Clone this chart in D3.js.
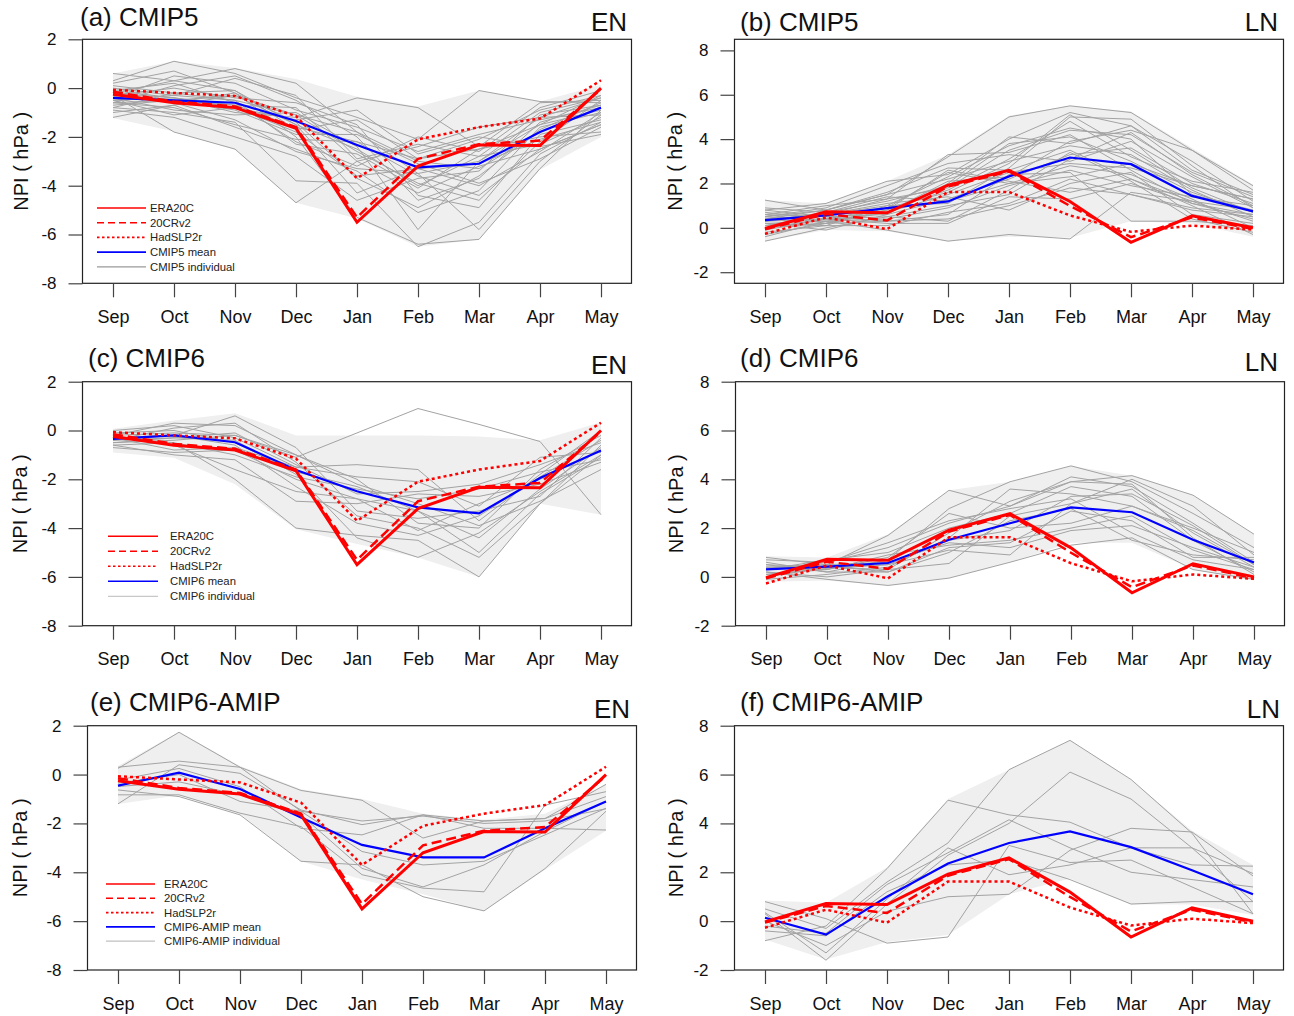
<!DOCTYPE html>
<html>
<head>
<meta charset="utf-8">
<script src="https://cdn.jsdelivr.net/npm/d3@7"></script>
<style>
  body { margin: 0; background: #fff; }
  svg { font-family: "Liberation Sans", Arial, Helvetica, sans-serif; }
</style>
</head>
<body>
<div id="chart"></div>
<script>
const months = ["Sep", "Oct", "Nov", "Dec", "Jan", "Feb", "Mar", "Apr", "May"];

// observations (same in every EN / LN panel)
const era20cEN = [-0.25, -0.6, -0.8, -1.65, -5.5, -3.2, -2.33, -2.35, 0.0];
const cr20EN   = [-0.15, -0.55, -0.75, -1.6, -5.3, -2.9, -2.3, -2.15, -0.05];
const hadEN    = [-0.07, -0.2, -0.32, -1.15, -3.7, -2.1, -1.6, -1.25, 0.32];
const era20cLN = [-0.03, 0.72, 0.68, 1.92, 2.59, 1.19, -0.65, 0.54, 0.0];
const cr20LN   = [-0.06, 0.62, 0.33, 1.86, 2.54, 0.99, -0.42, 0.47, -0.05];
const hadLN    = [-0.27, 0.47, -0.06, 1.62, 1.62, 0.56, -0.18, 0.1, -0.08];

// multi-model means
const cmip5MeanEN = [-0.4, -0.5, -0.6, -1.35, -2.33, -3.25, -3.1, -1.8, -0.8];
const cmip5MeanLN = [0.35, 0.56, 0.89, 1.19, 2.32, 3.17, 2.87, 1.44, 0.74];
const cmip6MeanEN = [-0.34, -0.2, -0.48, -1.62, -2.49, -3.15, -3.4, -1.95, -0.82];
const cmip6MeanLN = [0.31, 0.42, 0.57, 1.52, 2.2, 2.85, 2.65, 1.52, 0.59];
const amipMeanEN  = [-0.45, 0.08, -0.59, -1.76, -2.88, -3.39, -3.39, -2.2, -1.1];
const amipMeanLN  = [0.14, -0.55, 1.0, 2.36, 3.2, 3.67, 3.03, 2.08, 1.1];

// spread band (upper / lower)
const cmip5UpperEN = [0.6, 1.1, 0.82, 0.37, -0.35, -0.75, -0.1, -0.55, 0.14];
const cmip5LowerEN = [-1.23, -1.78, -2.53, -4.7, -5.34, -6.5, -6.2, -3.35, -2.0];
const cmip5UpperLN = [1.26, 1.1, 2.1, 3.3, 5.05, 5.5, 5.25, 3.6, 1.95];
const cmip5LowerLN = [-0.6, -0.1, -0.15, -0.6, -0.4, -0.45, 0.3, 0.2, -0.4];
const cmip6UpperEN = [0.07, 0.41, 0.71, -0.2, -0.2, -0.2, -0.25, -0.4, 0.34];
const cmip6LowerEN = [-0.9, -1.12, -2.2, -4.05, -4.65, -5.2, -6.0, -3.0, -3.45];
const cmip6UpperLN = [0.85, 0.8, 1.75, 3.55, 3.9, 4.55, 4.15, 3.35, 1.75];
const cmip6LowerLN = [-0.2, -0.15, -0.35, -0.05, 0.6, 1.4, 1.4, 0.3, -0.15];
const amipUpperEN  = [0.35, 1.75, 0.35, -0.6, -1.0, -1.6, -1.85, -1.6, -0.4];
const amipLowerEN  = [-1.2, -0.85, -1.6, -3.55, -4.3, -4.9, -5.6, -3.9, -2.3];
const amipUpperLN  = [0.85, 0.75, 2.2, 5.0, 6.2, 7.4, 5.8, 3.7, 2.3];
const amipLowerLN  = [-0.75, -1.57, -0.85, -0.57, 1.1, 1.75, 0.68, 0.68, 0.25];

// individual models
const cmip5IndivEN = [
  [0.3, 1.1, 0.6, -0.4, -1.2, -2.1, -0.1, -0.55, -0.6],
  [0.6, 0.3, 0.8, 0.2, -1.8, -3.5, -3.0, -1.5, -0.3],
  [-0.3, -1.8, -2.5, -4.7, -3.0, -4.3, -3.2, -2.5, -1.5],
  [-0.5, -0.4, -1.0, -1.2, -0.4, -0.8, -2.4, -0.6, -0.5],
  [-0.2, -0.6, -0.2, -2.0, -5.3, -6.4, -6.2, -3.3, -0.9],
  [-0.8, -1.0, -1.4, -3.8, -3.9, -6.5, -5.5, -2.7, -1.4],
  [-1.2, -0.7, -1.6, -2.5, -3.4, -5.1, -4.2, -1.6, -1.0],
  [-0.4, 0.5, 0.2, -0.9, -1.6, -2.6, -1.9, -1.3, -0.8],
  [0.1, -0.2, -0.5, -1.1, -2.6, -3.9, -4.6, -2.2, -0.5],
  [-0.6, -0.5, -0.7, -1.6, -2.2, -2.9, -2.5, -2.0, -1.8],
  [-0.3, 0.0, -0.4, -0.6, -1.5, -4.4, -4.9, -1.9, -1.3],
  [-0.9, -1.2, -2.0, -2.8, -4.6, -3.7, -3.4, -1.1, -0.7],
  [-0.5, -0.3, 0.4, -0.3, -2.9, -2.3, -2.8, -2.3, -1.2],
  [0.2, 0.7, -0.2, -1.4, -3.7, -4.9, -3.6, -1.7, -0.6],
  [-0.7, -0.5, -0.9, -1.9, -1.9, -3.1, -3.9, -2.9, -1.6],
  [-0.4, -0.9, -1.1, -1.0, -2.4, -5.8, -3.0, -1.2, -0.4],
  [-0.1, 0.2, -0.6, -2.2, -3.2, -2.0, -2.6, -0.8, -0.1],
  [-1.0, -0.7, -0.3, -1.5, -4.3, -3.3, -4.0, -2.6, -1.0],
  [-0.2, -0.4, -0.8, -1.3, -0.9, -2.7, -2.0, -2.4, -1.9],
  [-0.6, 0.1, 0.5, -0.5, -2.0, -4.6, -3.7, -1.4, -0.7],
  [-0.3, -0.6, -1.3, -2.6, -3.3, -3.5, -5.8, -3.0, -1.1],
  [-0.8, -0.2, -0.1, -1.7, -1.3, -2.9, -2.1, -0.9, -0.3],
  [0.0, -0.3, -0.5, -2.3, -2.7, -4.1, -2.5, -1.5, -0.9],
  [-0.5, -1.1, -0.8, -1.8, -3.6, -3.3, -3.1, -2.1, -1.4],
  [-0.4, -0.5, -0.3, -1.1, -1.8, -3.0, -3.3, -1.8, -0.8],
  [-0.2, 0.3, -0.1, -1.5, -2.5, -4.0, -2.8, -1.0, -0.4],
  [-0.6, -0.8, -1.5, -2.1, -2.2, -3.6, -4.4, -2.5, -1.5],
  [-0.1, -0.4, -0.7, -0.8, -3.0, -2.4, -1.6, -1.2, -1.1]
];
const cmip5IndivLN = [
  [1.25, 0.8, 1.5, 3.2, 5.0, 5.5, 5.2, 3.5, 1.9],
  [0.8, 1.1, 2.1, 2.4, 4.0, 5.2, 4.6, 2.6, 1.5],
  [-0.6, 0.0, 0.5, 1.0, 1.5, 3.1, 4.3, 2.4, 1.0],
  [0.5, 0.3, -0.1, -0.6, -0.3, -0.5, 1.6, 1.2, 0.3],
  [0.3, 0.6, 1.3, 3.3, 3.4, 4.2, 2.6, 1.1, 0.6],
  [0.0, 0.4, 0.9, 1.6, 2.9, 5.1, 3.5, 1.8, 0.7],
  [0.6, 0.5, 0.3, 0.6, 2.4, 2.5, 0.3, 0.3, 0.1],
  [-0.2, 0.1, 1.0, 2.3, 3.7, 4.5, 4.0, 1.5, 0.8],
  [0.9, 0.7, 1.4, 1.2, 2.0, 2.3, 2.9, 1.9, 1.3],
  [0.2, -0.1, 0.6, 2.0, 4.1, 3.8, 4.6, 3.0, 1.2],
  [0.4, 0.8, 1.6, 2.7, 2.6, 3.5, 2.2, 1.0, -0.3],
  [-0.3, 0.2, 0.3, 0.4, 1.0, 1.8, 1.5, 0.8, 0.5],
  [0.7, 0.4, 0.8, 1.7, 3.1, 4.8, 3.2, 2.1, 1.6],
  [0.1, 0.6, 1.1, 1.4, 0.8, 2.0, 2.5, 0.6, 0.2],
  [0.5, 0.9, 1.9, 2.9, 3.3, 3.0, 3.9, 2.3, 0.9],
  [0.2, 0.3, 0.4, 0.9, 1.9, 2.6, 1.9, 1.4, 1.0],
  [0.6, 0.2, 0.7, 2.1, 2.3, 3.9, 4.4, 3.5, 1.7],
  [-0.1, 0.4, 0.2, 0.2, 1.4, 1.3, 2.0, 1.1, 0.4],
  [0.3, 0.7, 1.2, 1.9, 3.8, 4.1, 3.0, 1.6, 0.7],
  [0.8, 0.5, 0.6, 1.3, 2.2, 3.3, 3.6, 2.0, 1.1],
  [0.0, 0.2, 0.9, 2.5, 2.0, 2.8, 2.4, 1.3, 0.0],
  [0.4, 0.6, 1.0, 1.1, 2.7, 5.0, 4.9, 2.8, 0.9],
  [0.2, 0.1, 0.1, 0.7, 1.1, 2.2, 1.5, 0.9, 0.6],
  [0.5, 0.8, 1.5, 2.2, 3.0, 3.7, 3.3, 1.7, 0.5],
  [-0.4, 0.3, 0.7, 1.5, 2.5, 2.9, 2.7, 1.9, 1.3],
  [0.3, 0.4, 0.5, 0.3, 1.7, 3.4, 2.1, 0.4, -0.2],
  [0.6, 1.0, 1.3, 1.8, 3.5, 4.4, 4.2, 2.5, 1.4],
  [0.1, 0.2, 0.8, 2.6, 2.1, 1.6, 2.2, 1.2, 0.8]
];
const cmip6IndivEN = [
  [-0.3, -0.5, -2.0, -4.0, -4.3, -4.5, -6.0, -3.0, -1.0],
  [-0.2, -0.1, -0.2, -1.1, -0.1, 0.9, 0.25, -0.45, -3.45],
  [-0.2, 0.3, 0.2, -1.0, -2.0, -3.8, -4.0, -1.6, -0.2],
  [-0.5, -0.3, -0.4, -1.8, -4.4, -5.2, -4.2, -2.5, -1.0],
  [-0.4, 0.1, 0.3, -1.3, -3.5, -4.0, -5.2, -3.0, -0.6],
  [-0.3, -0.8, -0.7, -1.5, -1.4, -1.6, -3.7, -1.8, 0.0],
  [-0.1, 0.0, -0.5, -1.7, -2.3, -3.3, -4.4, -2.4, -0.7],
  [-0.6, -1.0, -1.2, -2.9, -3.0, -2.6, -2.7, -2.2, -1.3],
  [-0.4, -0.3, -0.1, -1.4, -2.6, -2.5, -2.2, -1.4, -0.5],
  [-0.2, -0.6, -1.6, -2.5, -2.8, -4.1, -3.0, -2.0, -0.8],
  [-0.5, -0.4, -0.2, -1.0, -2.2, -3.0, -3.9, -2.9, -1.6],
  [-0.3, -0.2, 0.6, -0.7, -3.3, -3.6, -3.3, -2.7, -0.3],
  [-0.7, -0.9, -0.8, -2.0, -2.8, -3.3, -5.0, -2.6, -1.1],
  [0.0, 0.2, -0.3, -1.5, -1.9, -2.1, -3.1, -1.1, -0.9],
  [-0.4, -0.2, -0.6, -2.3, -3.8, -4.3, -3.5, -1.9, -0.4],
  [-0.6, -0.5, -1.0, -1.9, -2.4, -2.8, -2.4, -1.7, -1.2]
];
const cmip6IndivLN = [
  [0.8, 0.5, 1.7, 3.55, 2.9, 3.9, 4.15, 3.35, 1.75],
  [0.5, 0.2, 0.7, 2.8, 3.9, 4.55, 3.9, 2.6, 1.2],
  [0.2, -0.1, -0.35, -0.05, 0.6, 1.3, 1.6, 0.3, -0.1],
  [0.3, 0.6, 1.2, 2.2, 2.9, 4.1, 3.7, 2.2, 0.6],
  [0.0, 0.4, 0.3, 0.55, 2.5, 3.0, 3.6, 1.8, 0.4],
  [0.4, 0.3, 0.9, 1.3, 1.5, 2.0, 2.5, 1.1, 0.3],
  [-0.1, 0.1, 0.4, 1.6, 3.6, 3.4, 2.9, 1.9, 0.5],
  [0.5, 0.4, 0.5, 1.1, 0.9, 3.0, 4.0, 2.9, 0.9],
  [0.3, 0.7, 1.0, 2.0, 2.6, 3.7, 3.3, 1.5, 0.2],
  [0.6, 0.2, 0.2, 1.0, 2.3, 2.8, 1.5, 0.9, 0.7],
  [0.1, 0.3, 0.8, 2.6, 2.0, 2.2, 2.9, 2.0, 1.0],
  [0.4, 0.5, 0.6, 1.4, 1.2, 1.9, 2.1, 1.2, 0.4],
  [0.2, 0.0, 0.3, 1.8, 3.1, 3.9, 3.8, 1.6, 0.1],
  [0.35, 0.45, 0.2, 1.2, 1.4, 2.7, 2.3, 0.8, 0.8],
  [0.7, 0.6, 1.4, 2.3, 2.8, 3.2, 1.8, 0.7, 0.3],
  [0.1, 0.35, 0.5, 1.5, 1.9, 3.3, 3.4, 2.1, 0.5]
];
const amipIndivEN = [
  [0.25, 1.73, 0.3, -1.5, -1.9, -1.7, -2.0, -1.9, -1.4],
  [0.3, 0.55, 0.3, -0.65, -1.05, -2.6, -1.9, -1.8, -0.4],
  [-1.2, 0.4, 0.05, -1.45, -2.05, -1.65, -2.2, -2.2, -2.27],
  [-0.83, -0.83, -1.58, -2.13, -4.1, -4.65, -4.8, -1.25, -0.7],
  [-0.63, -0.9, -1.65, -3.55, -3.7, -5.0, -5.58, -3.85, -1.5],
  [-0.35, 0.0, -1.1, -1.5, -3.15, -3.7, -3.55, -2.47, -1.38],
  [-0.22, 0.25, -0.5, -2.2, -2.47, -1.65, -1.9, -1.8, -0.9],
  [-0.49, -0.3, -0.83, -1.65, -3.84, -4.6, -3.7, -2.33, -1.1]
];
const amipIndivLN = [
  [0.5, -0.3, 1.6, 3.2, 6.2, 7.4, 5.8, 3.6, 0.3],
  [0.3, -1.6, 0.7, 2.7, 4.0, 6.1, 5.0, 3.0, 0.8],
  [-0.8, -0.2, 2.15, 4.95, 4.35, 4.05, 3.0, 2.3, 2.25],
  [0.8, 0.1, -0.9, -0.65, 3.1, 2.4, 2.5, 1.4, 0.3],
  [0.0, -1.0, 0.4, 1.0, 1.1, 2.9, 3.8, 3.65, 1.85],
  [-0.2, -0.5, 1.5, 2.8, 4.15, 3.0, 2.0, 1.7, 1.4],
  [0.35, -1.3, 0.9, 3.0, 1.9, 2.3, 3.0, 3.0, 1.95],
  [-0.4, -0.6, 1.2, 2.3, 2.5, 1.7, 0.7, 0.8, 0.8]
];

const W = 1294, H = 1016;
const svg = d3.select("#chart").append("svg")
  .attr("width", W).attr("height", H);

const enTicks = [-8, -6, -4, -2, 0, 2];
const lnTicks = [-2, 0, 2, 4, 6, 8];

const panels = [
  { title: "(a) CMIP5", phase: "EN", model: "CMIP5", obs: [era20cEN, cr20EN, hadEN], mean: cmip5MeanEN,
    indiv: cmip5IndivEN, upper: cmip5UpperEN, lower: cmip5LowerEN, domain: [-8, 2], ticks: enTicks,
    left: 82.5, right: 631.5, top: 39.3, bottom: 283.3, titleX: 80, titleY: 26, phaseX: 627, phaseY: 31,
    ylabX: 21, legend: { x: 97, y: 208, len: 49, tx: 150, dy: 14.7, gray: "#9a9a9a" } },
  { title: "(b) CMIP5", phase: "LN", model: "CMIP5", obs: [era20cLN, cr20LN, hadLN], mean: cmip5MeanLN,
    indiv: cmip5IndivLN, upper: cmip5UpperLN, lower: cmip5LowerLN, domain: [-2.5, 8.5], ticks: lnTicks,
    left: 734.5, right: 1283.5, top: 39.3, bottom: 283.3, titleX: 740, titleY: 31, phaseX: 1278, phaseY: 31,
    ylabX: 675 },
  { title: "(c) CMIP6", phase: "EN", model: "CMIP6", obs: [era20cEN, cr20EN, hadEN], mean: cmip6MeanEN,
    indiv: cmip6IndivEN, upper: cmip6UpperEN, lower: cmip6LowerEN, domain: [-8, 2], ticks: enTicks,
    left: 82.5, right: 631.5, top: 381.7, bottom: 625.7, titleX: 88, titleY: 367, phaseX: 627, phaseY: 374,
    ylabX: 20, legend: { x: 108, y: 536.3, len: 50, tx: 170, dy: 15, gray: "#c8c8c8" } },
  { title: "(d) CMIP6", phase: "LN", model: "CMIP6", obs: [era20cLN, cr20LN, hadLN], mean: cmip6MeanLN,
    indiv: cmip6IndivLN, upper: cmip6UpperLN, lower: cmip6LowerLN, domain: [-2, 8], ticks: lnTicks,
    left: 735.5, right: 1284.5, top: 381.7, bottom: 625.7, titleX: 740, titleY: 367, phaseX: 1278, phaseY: 371,
    ylabX: 676 },
  { title: "(e) CMIP6-AMIP", phase: "EN", model: "CMIP6-AMIP", obs: [era20cEN, cr20EN, hadEN], mean: amipMeanEN,
    indiv: amipIndivEN, upper: amipUpperEN, lower: amipLowerEN, domain: [-8, 2], ticks: enTicks,
    left: 87.5, right: 636.5, top: 725.7, bottom: 970, titleX: 90, titleY: 711, phaseX: 630, phaseY: 718,
    ylabX: 20, legend: { x: 106, y: 884, len: 49, tx: 164, dy: 14.3, gray: "#c0c0c0" } },
  { title: "(f) CMIP6-AMIP", phase: "LN", model: "CMIP6-AMIP", obs: [era20cLN, cr20LN, hadLN], mean: amipMeanLN,
    indiv: amipIndivLN, upper: amipUpperLN, lower: amipLowerLN, domain: [-2, 8], ticks: lnTicks,
    left: 734.5, right: 1283.5, top: 725.7, bottom: 970, titleX: 740, titleY: 711, phaseX: 1280, phaseY: 718,
    ylabX: 676 }
];

const obsDash = [null, "10,5", "3,3"];

panels.forEach(p => {
  const g = svg.append("g");

  const x = d3.scalePoint().domain(months).range([p.left, p.right]).padding(0.5);
  const y = d3.scaleLinear().domain(p.domain).range([p.bottom, p.top]);

  const line = d3.line().x((d, i) => x(months[i])).y(d => y(d));
  const area = d3.area()
    .x((d, i) => x(months[i]))
    .y0((d, i) => y(p.lower[i]))
    .y1((d, i) => y(p.upper[i]));

  // spread band
  g.append("path").datum(p.upper).attr("d", area).attr("fill", "#efefef");

  // individual models
  g.selectAll(".indiv").data(p.indiv).enter().append("path")
    .attr("class", "indiv")
    .attr("d", line)
    .attr("fill", "none")
    .attr("stroke", "#a3a3a3")
    .attr("stroke-width", 1);

  // model mean
  g.append("path").datum(p.mean).attr("d", line)
    .attr("fill", "none").attr("stroke", "#0000ff").attr("stroke-width", 2.2);

  // observations
  p.obs.forEach((o, k) => {
    g.append("path").datum(o).attr("d", line)
      .attr("fill", "none").attr("stroke", "#ff0000")
      .attr("stroke-width", k === 0 ? 3 : 2.5)
      .attr("stroke-dasharray", obsDash[k]);
  });

  // frame
  g.append("rect")
    .attr("x", p.left).attr("y", p.top)
    .attr("width", p.right - p.left).attr("height", p.bottom - p.top)
    .attr("fill", "none").attr("stroke", "#222").attr("stroke-width", 1.2);

  // axes
  const xAxis = g.append("g")
    .attr("transform", `translate(0,${p.bottom})`)
    .call(d3.axisBottom(x).tickSize(14).tickPadding(13));
  xAxis.select(".domain").remove();
  xAxis.selectAll("line").attr("stroke", "#444").attr("stroke-width", 1.2);
  xAxis.selectAll("text").attr("font-size", 18).attr("fill", "#111")
    .attr("font-family", "Liberation Sans, Arial, sans-serif");

  const yAxis = g.append("g")
    .attr("transform", `translate(${p.left},0)`)
    .call(d3.axisLeft(y).tickValues(p.ticks).tickSize(14).tickPadding(12).tickFormat(d => String(d)));
  yAxis.select(".domain").remove();
  yAxis.selectAll("line").attr("stroke", "#444").attr("stroke-width", 1.2);
  yAxis.selectAll("text").attr("font-size", 17).attr("fill", "#111")
    .attr("font-family", "Liberation Sans, Arial, sans-serif");

  // y label
  g.append("text")
    .attr("transform", `translate(${p.ylabX},${(p.top + p.bottom) / 2}) rotate(-90)`)
    .attr("text-anchor", "middle").attr("dy", "0.35em")
    .attr("font-size", 20).attr("fill", "#111")
    .text("NPI ( hPa )");

  // titles
  g.append("text").attr("x", p.titleX).attr("y", p.titleY)
    .attr("font-size", 26).attr("fill", "#111").text(p.title);
  g.append("text").attr("x", p.phaseX).attr("y", p.phaseY)
    .attr("text-anchor", "end").attr("font-size", 26).attr("fill", "#111").text(p.phase);

  // legend
  if (p.legend) {
    const L = p.legend;
    const items = [
      { name: "ERA20C", color: "#ff0000", dash: null, w: 1.6 },
      { name: "20CRv2", color: "#ff0000", dash: "7,4", w: 1.6 },
      { name: "HadSLP2r", color: "#ff0000", dash: "2.5,2.5", w: 1.6 },
      { name: p.model + " mean", color: "#0000ff", dash: null, w: 1.6 },
      { name: p.model + " individual", color: L.gray, dash: null, w: 1.2 }
    ];
    const lg = g.append("g");
    items.forEach((it, i) => {
      const yy = L.y + i * L.dy;
      lg.append("line")
        .attr("x1", L.x).attr("x2", L.x + L.len)
        .attr("y1", yy).attr("y2", yy)
        .attr("stroke", it.color).attr("stroke-width", it.w)
        .attr("stroke-dasharray", it.dash);
      lg.append("text").attr("x", L.tx).attr("y", yy).attr("dy", "0.35em")
        .attr("font-size", 11.3).attr("fill", "#222").text(it.name);
    });
  }
});
</script>
</body>
</html>
